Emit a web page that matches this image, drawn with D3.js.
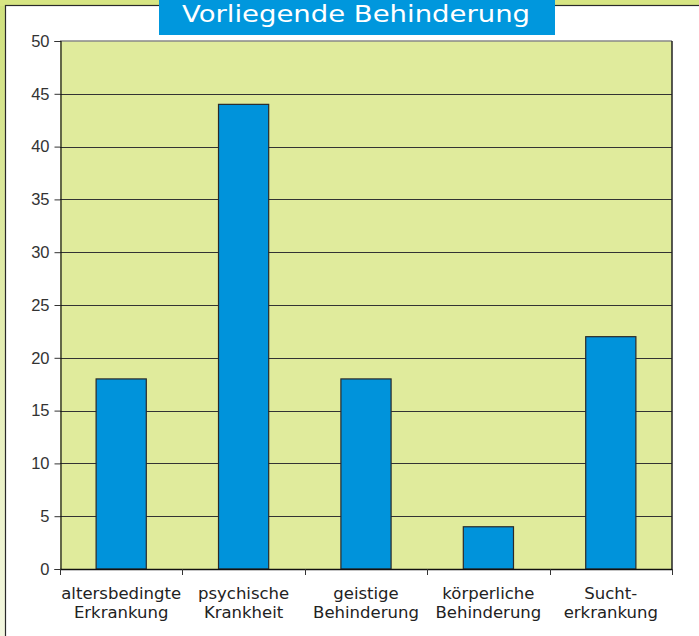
<!DOCTYPE html>
<html><head><meta charset="utf-8">
<script src="https://cdn.jsdelivr.net/npm/d3@7"></script>
<style>body{margin:0;padding:0;overflow:hidden;background:#fff}</style>
</head><body>
<script>
const categories = [["altersbedingte","Erkrankung"],["psychische","Krankheit"],["geistige","Behinderung"],["körperliche","Behinderung"],["Sucht-","erkrankung"]];
const values = [18, 44, 18, 4, 22];
const yTicks = [0,5,10,15,20,25,30,35,40,45,50];
const title = "Vorliegende Behinderung";

const W = 699, H = 636;
const svg = d3.select("body").append("svg").attr("width", W).attr("height", H);
const defs = svg.append("defs");
const g1 = defs.append("linearGradient").attr("id","bgL").attr("x1",0).attr("y1",0).attr("x2",0).attr("y2",1);
g1.append("stop").attr("offset","0%").attr("stop-color","#cfe07c");
g1.append("stop").attr("offset","50%").attr("stop-color","#e2ecae");
g1.append("stop").attr("offset","100%").attr("stop-color","#f3f7e0");

// outer background
svg.append("rect").attr("width",W).attr("height",H).attr("fill","url(#bgL)");
svg.append("rect").attr("width",W).attr("height",6).attr("fill","#d7e583");
// white panel
svg.append("rect").attr("x",5.5).attr("y",5.5).attr("width",W).attr("height",H)
  .attr("fill","#fff").attr("stroke","#2a2a2a").attr("stroke-width",1.2);

const m = {l:60, r:672, t:41, b:569};
const x = d3.scaleBand().domain(d3.range(categories.length)).range([m.l, m.r]).paddingInner(0.59).paddingOuter(0.295);
const y = d3.scaleLinear().domain([0,50]).range([m.b, m.t]);

// plot bg
svg.append("rect").attr("x",m.l).attr("y",m.t).attr("width",m.r-m.l).attr("height",m.b-m.t).attr("fill","#e0eb9c");

// gridlines
svg.append("g").selectAll("line").data(yTicks.filter(d=>d>0 && d<50)).join("line")
  .attr("x1",m.l).attr("x2",m.r).attr("y1",d=>Math.round(y(d))+0.5).attr("y2",d=>Math.round(y(d))+0.5)
  .attr("stroke","#333").attr("stroke-width",1);
svg.append("line").attr("x1",m.l).attr("x2",m.r).attr("y1",y(50)).attr("y2",y(50)).attr("stroke","#888").attr("stroke-width",1.5);
svg.append("line").attr("x1",m.r).attr("x2",m.r).attr("y1",m.t).attr("y2",m.b).attr("stroke","#222").attr("stroke-width",1.5);

// bars
svg.append("g").selectAll("rect").data(values).join("rect")
  .attr("x",(d,i)=>x(i)).attr("y",d=>y(d)).attr("width",x.bandwidth()).attr("height",d=>y(0)-y(d))
  .attr("fill","#0093db").attr("stroke","#2a2a2a").attr("stroke-width",1.2);

// y axis
const yAx = svg.append("g").attr("transform",`translate(${m.l+0.5},0)`)
  .call(d3.axisLeft(y).tickValues(yTicks).tickSize(6).tickPadding(5).tickFormat(d3.format("d")));
yAx.select(".domain").attr("stroke","#111").attr("stroke-width",1.2);
yAx.selectAll(".tick line").attr("stroke","#333");
yAx.selectAll("text").attr("font-family","'Liberation Sans', Arial, sans-serif").attr("font-size",16.5).attr("fill","#333");

// x axis line & ticks at band boundaries
svg.append("line").attr("x1",m.l).attr("x2",m.r).attr("y1",m.b+0.5).attr("y2",m.b+0.5).attr("stroke","#111").attr("stroke-width",1.5);
const step = x.step();
svg.append("g").selectAll("line").data(d3.range(categories.length+1)).join("line")
  .attr("x1",i=>Math.round(m.l + i*step)+0.5).attr("x2",i=>Math.round(m.l + i*step)+0.5)
  .attr("y1",m.b).attr("y2",m.b+6).attr("stroke","#333");

const labs = svg.append("g").selectAll("text").data(categories).join("text")
  .attr("x",(d,i)=>x(i)+x.bandwidth()/2).attr("y",599)
  .attr("text-anchor","middle").attr("font-family","'DejaVu Sans', sans-serif").attr("font-size",16.5)
  .attr("fill","#222");
labs.each(function(d){
  const t = d3.select(this);
  t.append("tspan").attr("x",t.attr("x")).attr("dy",0).text(d[0]);
  t.append("tspan").attr("x",t.attr("x")).attr("dy",19).text(d[1]);
});

// title
svg.append("rect").attr("x",159).attr("y",0).attr("width",396).attr("height",35).attr("fill","#0097dd");
svg.append("text").attr("x",356).attr("y",22).attr("text-anchor","middle")
  .attr("font-family","'DejaVu Sans', sans-serif").attr("font-size",23).attr("fill","#fff")
  .attr("textLength",348).attr("lengthAdjust","spacingAndGlyphs").text(title);
</script>
</body></html>
